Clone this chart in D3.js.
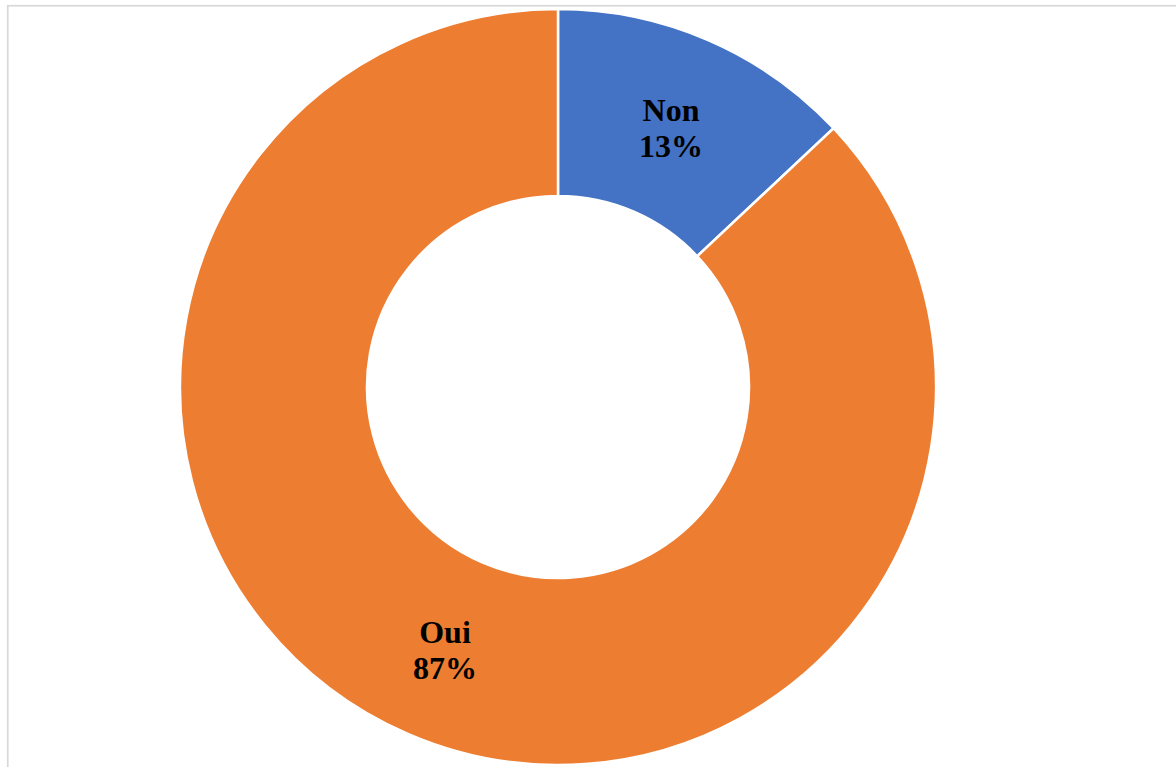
<!DOCTYPE html>
<html>
<head>
<meta charset="utf-8">
<script src="https://cdn.jsdelivr.net/npm/d3@7"></script>
<style>
  html, body { margin: 0; padding: 0; background: #ffffff; }
  svg { display: block; }
</style>
</head>
<body>
<svg id="chart" width="1176" height="767"></svg>
<script>
// Survey answers and their shares (percent)
const categories = ["Non", "Oui"];
const values = [13, 87];
const colors = ["#4472C4", "#ED7D31"];

const width = 1176, height = 767;
const cx = 558, cy = 387;
const outerR = 378, innerR = 191;

const svg = d3.select("#chart");

// Chart area frame
svg.append("rect")
  .attr("x", 7.75).attr("y", 5.75)
  .attr("width", width + 20).attr("height", height + 20)
  .attr("fill", "none")
  .attr("stroke", "#d9d9d9")
  .attr("stroke-width", 1.75);

const data = categories.map((c, i) => ({ name: c, value: values[i], color: colors[i] }));
const total = d3.sum(values);

const pie = d3.pie().value(d => d.value).sort(null).startAngle(0).endAngle(2 * Math.PI);
const arc = d3.arc().innerRadius(innerR).outerRadius(outerR);
const labelArc = d3.arc().innerRadius(innerR).outerRadius(outerR);

const g = svg.append("g").attr("transform", `translate(${cx},${cy})`);
const arcs = pie(data);

g.selectAll("path.slice")
  .data(arcs)
  .join("path")
  .attr("class", "slice")
  .attr("d", arc)
  .attr("fill", d => d.data.color)
  .attr("stroke", "#ffffff")
  .attr("stroke-width", 2.5)
  .attr("stroke-linejoin", "miter");

// Category name and percentage at each slice centroid
const fmt = d3.format(".0%");
const labels = g.selectAll("text.lbl")
  .data(arcs)
  .join("text")
  .attr("class", "lbl")
  .attr("transform", d => `translate(${labelArc.centroid(d)})`)
  .attr("text-anchor", "middle")
  .attr("font-family", "'Liberation Serif', 'Times New Roman', serif")
  .attr("font-weight", "bold")
  .attr("font-size", 32)
  .attr("fill", "#000000");

labels.append("tspan").attr("x", 0).attr("y", -5).text(d => d.data.name);
labels.append("tspan").attr("x", 0).attr("y", 31).text(d => fmt(d.data.value / total));
</script>
</body>
</html>
